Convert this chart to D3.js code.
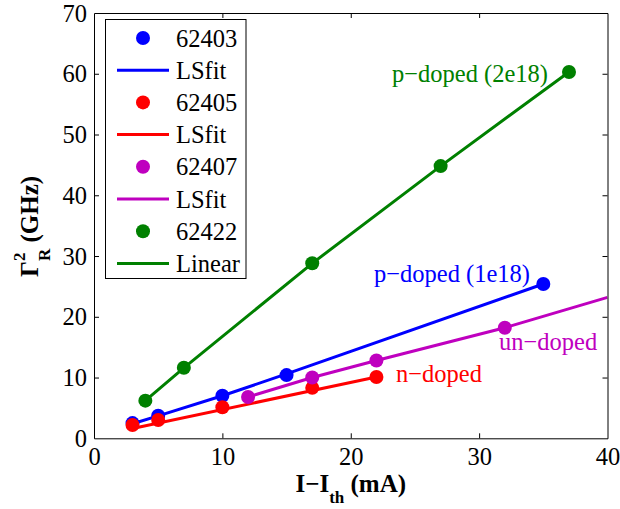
<!DOCTYPE html>
<html>
<head>
<meta charset="utf-8">
<script src="https://cdn.jsdelivr.net/npm/d3@7"></script>
<style>
  html, body { margin: 0; padding: 0; background: #fff; }
  svg { display: block; }
</style>
</head>
<body>
<svg id="chart" width="620" height="509"></svg>
<script>
// ---- data ----
const xTicks = [0, 10, 20, 30, 40];
const yTicks = [0, 10, 20, 30, 40, 50, 60, 70];

const x62403 = [3, 5, 10, 15, 35];
const y62403 = [2.5, 3.7, 7.0, 10.4, 25.4];
const fitX62403 = [3, 5, 10, 15, 35];
const fitY62403 = [2.4, 3.7, 7.0, 10.6, 25.4];

const x62405 = [3, 5, 10, 17, 22];
const y62405 = [2.2, 3.0, 5.1, 8.3, 10.1];
const fitX62405 = [3, 22];
const fitY62405 = [1.6, 10.1];

const x62407 = [12, 17, 22, 32];
const y62407 = [6.8, 10.0, 12.8, 18.2];
const fitX62407 = [12, 17, 22, 32, 40];
const fitY62407 = [6.8, 10.0, 12.8, 18.2, 23.2];

const x62422 = [4, 7, 17, 27, 37];
const y62422 = [6.2, 11.6, 28.8, 44.8, 60.3];
const fitX62422 = [4, 7, 17, 27, 37];
const fitY62422 = [6.2, 11.6, 28.8, 44.8, 60.3];

const seriesNames = ["62403", "62405", "62407", "62422"];
const fitNames = ["LSfit", "LSfit", "LSfit", "Linear"];
const colors = ["#0000ff", "#ff0000", "#bf00bf", "#008000"];
const annotations = ["p\u2212doped (1e18)", "n\u2212doped", "un\u2212doped", "p\u2212doped (2e18)"];

// ---- layout ----
const FONT = "'Liberation Serif', 'Times New Roman', Times, serif";
const svg = d3.select("#chart").style("font-family", FONT);
const L = 94, R = 607.5, T = 13, B = 438.3;
const x = d3.scaleLinear().domain([0, 40]).range([L, R]);
const y = d3.scaleLinear().domain([0, 70]).range([B, T]);

svg.append("defs").append("clipPath").attr("id", "clip")
  .append("rect").attr("x", L).attr("y", T).attr("width", R - L).attr("height", B - T);

const series = [
  { px: x62403, py: y62403, fx: fitX62403, fy: fitY62403 },
  { px: x62405, py: y62405, fx: fitX62405, fy: fitY62405 },
  { px: x62407, py: y62407, fx: fitX62407, fy: fitY62407 },
  { px: x62422, py: y62422, fx: fitX62422, fy: fitY62422 }
];

const line = d3.line().x(d => x(d[0])).y(d => y(d[1]));
const plot = svg.append("g").attr("clip-path", "url(#clip)");
series.forEach((s, i) => {
  plot.selectAll(null).data(d3.zip(s.px, s.py)).enter().append("circle")
    .attr("cx", d => x(d[0])).attr("cy", d => y(d[1])).attr("r", 7)
    .attr("fill", colors[i]);
  plot.append("path").datum(d3.zip(s.fx, s.fy))
    .attr("d", line).attr("fill", "none")
    .attr("stroke", colors[i]).attr("stroke-width", 3);
});

// ---- axes (ticks inside, mirrored) ----
const fs = 24.5;
const axB = svg.append("g").attr("transform", `translate(0,${B})`)
  .call(d3.axisBottom(x).tickValues(xTicks).tickSizeInner(-5).tickSizeOuter(0).tickPadding(12));
const axT = svg.append("g").attr("transform", `translate(0,${T})`)
  .call(d3.axisTop(x).tickValues(xTicks).tickSizeInner(-5).tickSizeOuter(0).tickFormat(""));
const axL = svg.append("g").attr("transform", `translate(${L},0)`)
  .call(d3.axisLeft(y).tickValues(yTicks).tickSizeInner(-5).tickSizeOuter(0).tickPadding(12));
const axR = svg.append("g").attr("transform", `translate(${R},0)`)
  .call(d3.axisRight(y).tickValues(yTicks).tickSizeInner(-5).tickSizeOuter(0).tickFormat(""));
[axB, axT, axL, axR].forEach(g => {
  g.attr("font-family", null).style("font-family", FONT);
  g.select(".domain").attr("stroke", "#000").attr("stroke-width", 1);
  g.selectAll(".tick line").attr("stroke", "#000").attr("stroke-width", 1);
  g.selectAll("text").style("font-family", FONT).attr("font-size", fs).attr("fill", "#000");
});
axB.selectAll(".tick text").attr("dy", null).attr("y", 27);
axL.selectAll(".tick text").attr("x", -7).attr("dy", "0.33em");
[axB, axT].forEach(g => g.selectAll(".tick line").filter(d => d === 0 || d === 40).remove());
[axL, axR].forEach(g => g.selectAll(".tick line").filter(d => d === 0 || d === 70).remove());

// ---- axis labels ----
const lfs = 25;
const xl = svg.append("text").attr("x", (L + R) / 2).attr("y", 492)
  .style("font-family", FONT)
  .attr("text-anchor", "middle").attr("font-weight", "bold").attr("font-size", lfs);
xl.append("tspan").text("I\u2212I");
xl.append("tspan").attr("font-size", 17).attr("dy", 11).text("th");
xl.append("tspan").attr("dy", -11).text(" (mA)");

const yl = svg.append("g").attr("transform", "translate(38,225) rotate(-90)")
  .append("text").attr("x", -52).attr("y", 0).style("font-family", FONT)
  .attr("font-weight", "bold").attr("font-size", lfs);
yl.append("tspan").text("\u0393");
yl.append("tspan").attr("font-size", 17).attr("dy", -13).text("2");
yl.append("tspan").attr("font-size", 17).attr("dx", -8.5).attr("dy", 25).text("R");
yl.append("tspan").attr("dy", -12).text(" (GHz)");

// ---- annotations ----
const annPos = [
  { x: 374, y: 282, anchor: "start" },
  { x: 396, y: 382, anchor: "start" },
  { x: 499, y: 350, anchor: "start" },
  { x: 548, y: 82, anchor: "end" }
];
annotations.forEach((t, i) => {
  svg.append("text").attr("x", annPos[i].x).attr("y", annPos[i].y)
    .style("font-family", FONT)
    .attr("text-anchor", annPos[i].anchor).attr("font-size", fs)
    .attr("fill", colors[i]).text(t);
});

// ---- legend ----
const lg = svg.append("g");
lg.append("rect").attr("x", 105.5).attr("y", 19.5).attr("width", 140.5).attr("height", 259)
  .attr("fill", "#fff").attr("stroke", "#000").attr("stroke-width", 1);
const step = 32.2, y0 = 38;
seriesNames.forEach((n, i) => {
  const ym = y0 + step * (2 * i);
  const yl2 = y0 + step * (2 * i + 1);
  lg.append("circle").attr("cx", 143).attr("cy", ym).attr("r", 7).attr("fill", colors[i]);
  lg.append("text").attr("x", 176).attr("y", ym + 8.5).style("font-family", FONT).attr("font-size", fs).text(n);
  lg.append("line").attr("x1", 117).attr("x2", 169).attr("y1", yl2).attr("y2", yl2)
    .attr("stroke", colors[i]).attr("stroke-width", 3);
  lg.append("text").attr("x", 176).attr("y", yl2 + 8.5).style("font-family", FONT).attr("font-size", fs).text(fitNames[i]);
});
</script>
</body>
</html>
